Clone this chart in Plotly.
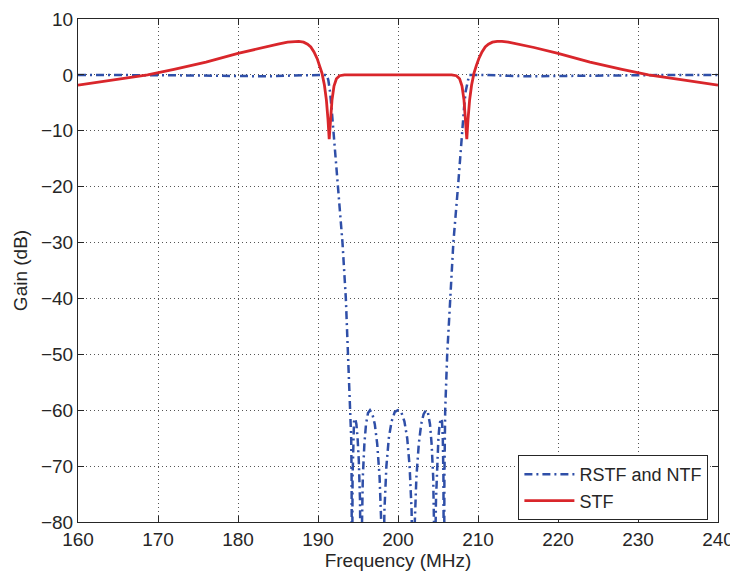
import plotly.graph_objects as go

# STF curve (MHz, dB)
stf_freq = [160, 164, 168.7, 172, 176, 180, 183, 185.0, 186.2, 187.0, 187.6, 188.2, 188.7,
            189.1, 189.5, 189.9, 190.2, 190.5, 190.8, 191.05, 191.25, 191.4, 191.55, 191.75,
            192.0, 192.3, 192.7, 193.3,
            196, 200, 204, 206.7, 207.3, 207.7, 208.0, 208.25, 208.45, 208.6, 208.75,
            208.95, 209.2, 209.5, 209.8, 210.1, 210.5, 210.9, 211.3, 211.8, 212.4, 213.0,
            213.8, 215.0, 217, 220, 224, 228, 231.3, 236, 240]
stf_gain = [-1.85, -1.0, 0.0, 1.0, 2.3, 3.85, 4.9, 5.5, 5.85, 6.0, 6.0, 5.85, 5.5,
            5.0, 4.1, 2.9, 1.7, 0.3, -1.8, -4.5, -8.0, -11.5, -8.5, -4.5,
            -2.0, -0.7, -0.15, 0.0,
            0.0, 0.0, 0.0, 0.0, -0.15, -0.7, -2.0, -4.5, -8.5, -11.5, -8.0,
            -4.5, -1.8, 0.3, 1.7, 2.9, 4.1, 5.0, 5.5, 5.85, 6.0, 6.0,
            5.85, 5.5, 4.9, 3.85, 2.3, 1.0, 0.0, -1.0, -1.85]

# RSTF and NTF curve (MHz, dB)
ntf_freq = [160, 165, 170, 175, 180, 184, 187, 189.5, 191.1, 191.3, 191.5, 191.7, 191.9,
            192.1, 192.52, 193.06, 193.48, 193.77, 194.06, 194.15, 194.2, 194.25, 194.32,
            194.4, 194.5, 194.65, 194.8, 194.95, 195.1, 195.25, 195.35, 195.4, 195.48,
            195.6, 195.8, 196.0, 196.25, 196.5, 196.8, 197.1, 197.4, 197.7, 197.9, 198.1,
            198.3, 198.55, 198.85, 199.2, 199.6, 200.0, 200.4, 200.8, 201.15, 201.45,
            201.7, 201.9, 202.1, 202.3, 202.6, 202.9, 203.2, 203.5, 203.75, 204.0, 204.2,
            204.4, 204.52, 204.6, 204.65, 204.75, 204.9, 205.05, 205.2, 205.35, 205.5,
            205.6, 205.68, 205.75, 205.8, 205.85, 205.9, 206.15, 206.5, 206.92, 207.5,
            207.85, 208.05, 208.25, 208.45, 208.7, 208.9, 210.5, 213, 216, 220, 225,
            230, 235, 240]
ntf_gain = [0.0, 0.0, 0.0, -0.1, -0.2, -0.25, -0.1, 0.0, 0.0, -1.0, -3.0, -6.0, -9.5,
            -13.0, -20.0, -30.0, -40.0, -50.0, -60.0, -65.0, -72.0, -100.0, -72.0,
            -65.0, -62.0, -61.5, -62.5, -65.0, -69.0, -76.0, -85.0, -100.0, -82.0,
            -72.0, -66.0, -62.5, -60.5, -60.0, -60.7, -62.5, -66.0, -72.0, -80.0, -100.0,
            -78.0, -70.0, -65.0, -62.0, -60.3, -60.0, -60.3, -62.0, -65.0, -70.0,
            -78.0, -100.0, -80.0, -72.0, -66.0, -62.5, -60.7, -60.0, -60.5, -62.5, -66.0,
            -72.0, -82.0, -100.0, -85.0, -76.0, -69.0, -65.0, -62.5, -61.5, -62.0,
            -65.0, -72.0, -100.0, -72.0, -65.0, -60.0, -50.0, -40.0, -30.0, -20.0,
            -13.0, -9.5, -6.0, -3.0, -1.0, 0.0, 0.0, -0.1, -0.25, -0.2, -0.1,
            0.0, 0.0, 0.0]

x_ticks = [160, 170, 180, 190, 200, 210, 220, 230, 240]
y_ticks = [10, 0, -10, -20, -30, -40, -50, -60, -70, -80]

blue = "#2f4fa8"
red = "#d9262b"
ink = "#262626"
font_family = "Liberation Sans, Arial, sans-serif"

fig = go.Figure()
fig.add_trace(go.Scatter(x=ntf_freq, y=ntf_gain, mode="lines", name="RSTF and NTF",
                         line=dict(color=blue, width=2.5, dash="8px,4px,2px,4px")))
fig.add_trace(go.Scatter(x=stf_freq, y=stf_gain, mode="lines", name="STF",
                         line=dict(color=red, width=2.8)))

axis_common = dict(showline=True, linecolor=ink, linewidth=1, mirror="allticks",
                   ticks="inside", ticklen=6, tickcolor=ink, automargin=False,
                   ticklabeloverflow="allow",
                   showgrid=True, gridcolor="#555555", griddash="1px,3px", gridwidth=1,
                   zeroline=False, tickfont=dict(size=19, color=ink, family=font_family))

fig.update_xaxes(range=[160, 240], tickvals=x_ticks,
                 title=dict(text="Frequency (MHz)", font=dict(size=19, color=ink, family=font_family),
                            standoff=1),
                 **axis_common)
fig.update_yaxes(range=[-80, 10], tickvals=y_ticks,
                 title=dict(text="Gain (dB)", font=dict(size=19, color=ink, family=font_family),
                            standoff=8),
                 **axis_common)

# page has an 8px body margin, so the figure is sized/offset to compensate
fig.update_layout(
    width=730, height=566,
    margin=dict(l=70, r=20, t=11, b=52),
    paper_bgcolor="white", plot_bgcolor="white",
    font=dict(family=font_family, size=19, color=ink),
    showlegend=True,
    legend=dict(x=0.985, y=0.004, xanchor="right", yanchor="bottom",
                bgcolor="white", bordercolor=ink, borderwidth=1,
                font=dict(size=18, color=ink, family=font_family),
                tracegroupgap=0, itemwidth=50),
)

fig.write_html("out.html")
